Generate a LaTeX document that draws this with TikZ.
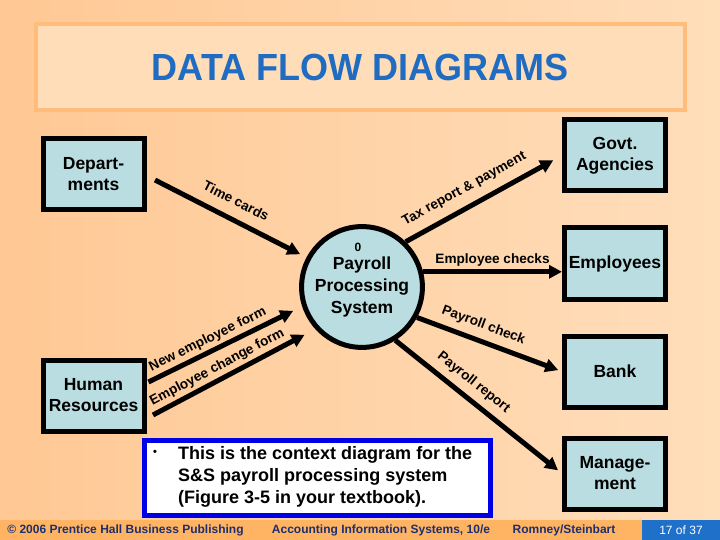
\documentclass[tikz,border=0pt]{standalone}
\usepackage{fontspec}
\setmainfont{Liberation Sans}
\usepackage{xcolor}
\usepackage{tikz}
\usetikzlibrary{arrows.meta,positioning,calc}

\definecolor{peachL}{HTML}{FFC894}
\definecolor{peachR}{HTML}{FFDEBB}
\definecolor{titlefill}{HTML}{FFDDB8}
\definecolor{titleedge}{HTML}{FFBC7A}
\definecolor{boxblue}{HTML}{B9DDE1}
\definecolor{titleblue}{HTML}{1F6CC2}
\definecolor{footorange}{HTML}{FFB464}
\definecolor{footblue}{HTML}{1F70C8}
\definecolor{footnavy}{HTML}{1C2F70}
\definecolor{noteblue}{HTML}{0000E6}

\begin{document}
\begin{tikzpicture}[x=1pt, y=-1pt,
  ent/.style={draw, line width=5pt, fill=boxblue, minimum width=101pt, minimum height=71pt,
    align=center, font=\fontsize{17.5}{21}\selectfont\bfseries},
  bubble/.style={circle, draw, line width=5pt, fill=boxblue, minimum size=120pt,
    align=center, font=\fontsize{17.5}{22}\selectfont\bfseries},
  flow/.style={-{Triangle[length=13pt,width=13pt]}, line width=5pt},
  lbl/.style={sloped, above, inner sep=3pt, font=\fontsize{13.6}{15}\selectfont\bfseries},
  foot/.style={font=\fontsize{12}{14}\selectfont\bfseries, text=footnavy}
]
  % slide background
  \useasboundingbox (0,0) rectangle (720,540);
  \shade[left color=peachL, right color=peachR] (0,0) rectangle (720,540);
  \draw[titleedge, line width=4pt, fill=titlefill] (36,24) rectangle (685,110);
  \node[font=\fontsize{36}{40}\selectfont\bfseries, text=titleblue, yscale=1.05] (title) at (360,67) {DATA FLOW DIAGRAMS};

  % entities and process
  \node[ent] (dept) at (93.5,174) {Depart-\\ments};
  \node[ent] (hr) at (93.5,395.5) {Human\\Resources};
  \node[ent] (govt) at (615,155.5) {Govt.\\Agencies};
  \node[ent] (emp) at (615,263.5) {Employees};
  \node[ent] (bank) at (615,371.5) {Bank};
  \node[ent] (mgmt) at (615,473.5) {Manage-\\ment};
  \node[bubble] (pay) at (362,287) {Payroll\\Processing\\System};
  \node[font=\fontsize{12}{14}\selectfont\bfseries] (paynum) at (358,247) {0};

  % data flows
  \draw[flow, shorten >=7pt] ($(dept.east)+(8.5,6)$) -- node[lbl, above=8pt, pos=0.48] {Time cards} (pay.152);
  \draw[flow, shorten >=10pt] (pay.46) -- node[lbl, above=6pt, pos=0.43] {Tax report \& payment} (govt.west);
  \draw[flow] (pay.14) -- node[lbl, pos=0.5] {Employee checks} (pay.14 -| emp.west);
  \draw[flow, shorten >=4pt] (pay.-29) -- node[lbl, above=4pt, pos=0.42] {Payroll check} (bank.west);
  \draw[flow, shorten >=5pt] (pay.-58) -- node[lbl, above=4pt, pos=0.41] {Payroll report} (mgmt.west);
  \draw[flow, shorten >=10pt] ($(hr.east)+(2,-13.5)$) -- node[lbl, pos=0.42] {New employee form} (pay.198);
  \draw[flow, shorten >=12pt] ($(hr.east)+(6.5,19.5)$) -- node[lbl, pos=0.43] {Employee change form} (pay.222);

  % note box
  \node[draw=noteblue, line width=5pt, fill=white, minimum width=346pt, minimum height=75pt] (note) at (317.5,478) {};
  \node[font=\fontsize{11}{13}\selectfont\bfseries] (bullet) at (155,453) {\textbullet};
  \node[anchor=west, inner sep=0pt, align=left, font=\fontsize{18}{21.7}\selectfont\bfseries] (notetext) at (178,477)
    {This is the context diagram for the\\S\&S payroll processing system\\(Figure 3-5 in your textbook).};

  % footer
  \fill[footorange] (0,520) rectangle (642,540);
  \fill[footblue] (642,520) rectangle (720,540);
  \node[foot] (copy) at (125.5,530) {\textcopyright{} 2006 Prentice Hall Business Publishing};
  \node[foot] (book) at (381,530) {Accounting Information Systems, 10/e};
  \node[foot] (auth) at (564,530) {Romney/Steinbart};
  \node[font=\fontsize{12}{14}\selectfont, text=white] (page) at (681,530) {17 of 37};
\end{tikzpicture}
\end{document}
